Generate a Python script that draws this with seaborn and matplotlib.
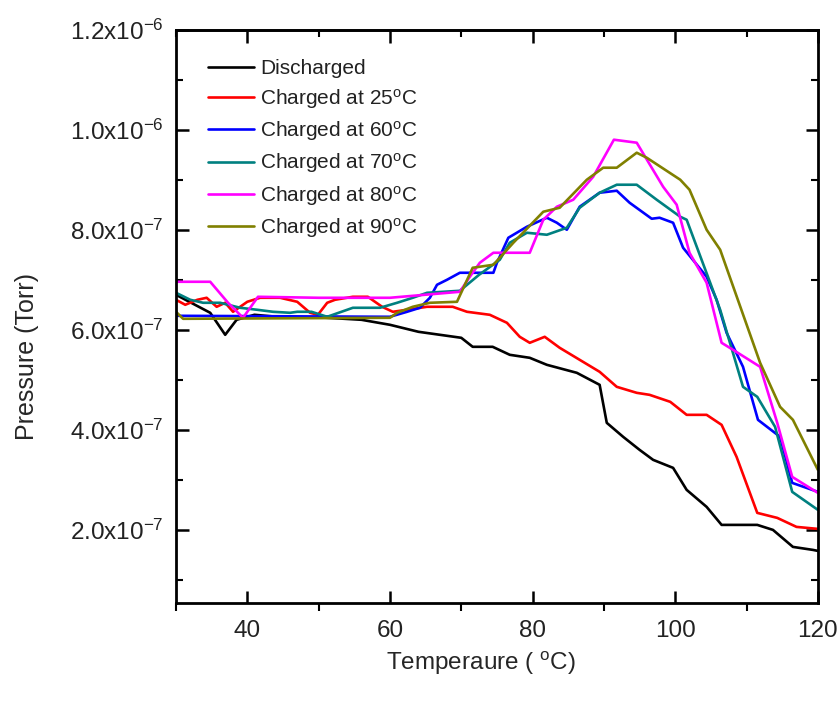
import matplotlib
matplotlib.use('Agg')
import matplotlib.pyplot as plt
from matplotlib.ticker import MultipleLocator, FuncFormatter
import numpy as np
import pandas as pd
import seaborn as sns

# data (pressure in units of 1e-7 Torr)
disc_x = [30, 32, 34.8, 36.9, 38.5, 41, 45, 50, 56, 60, 64, 67, 70, 71.6, 74.4, 76.8, 79.6, 82, 86.2, 89.4,
          90.4, 92.7, 95, 96.9, 99.7, 101.6, 104.4, 106.5, 111.5, 113.7, 116.5, 119.3, 120]
disc_y = [6.7, 6.55, 6.34, 5.9, 6.2, 6.3, 6.25, 6.25, 6.2, 6.1, 5.96, 5.9, 5.84, 5.66, 5.66, 5.5, 5.44, 5.3, 5.14, 4.9,
          4.14, 3.86, 3.6, 3.4, 3.24, 2.8, 2.46, 2.1, 2.1, 2.0, 1.66, 1.6, 1.58]

c25_x = [30, 31.3, 33, 34.3, 35.7, 36.9, 38, 40, 41.8, 44.6, 47, 48.8, 49.9, 51.2, 52.3, 54.8, 56.9, 58.9, 60.4, 62.4,
         65.2, 68.8, 70.8, 74, 76.4, 78.2, 79.6, 81.7, 83.8, 86.6, 89.4, 91.8, 94.6, 96.4, 99.3, 101.6, 104.4, 106.5,
         108.6, 111.5, 114.3, 117, 120]
c25_y = [6.6, 6.5, 6.6, 6.64, 6.46, 6.54, 6.36, 6.56, 6.64, 6.64, 6.56, 6.34, 6.3, 6.54, 6.6, 6.66, 6.66, 6.46, 6.36, 6.4,
         6.46, 6.46, 6.36, 6.3, 6.14, 5.86, 5.74, 5.86, 5.64, 5.4, 5.16, 4.86, 4.74, 4.7, 4.56, 4.3, 4.3, 4.1,
         3.46, 2.34, 2.24, 2.06, 2.02]

c60_x = [30, 60, 62.4, 64.2, 65.6, 66.6, 68, 69.8, 74.5, 75, 76.6, 79.2, 82, 83.4, 84.8, 86.6, 89.4, 91.8, 93.6, 96.7,
         97.8, 99.7, 101.1, 104.4, 105.8, 107.2, 109.5, 111.6, 114.7, 116.4, 120]
c60_y = [6.28, 6.26, 6.36, 6.44, 6.64, 6.9, 7.0, 7.14, 7.14, 7.34, 7.84, 8.06, 8.24, 8.14, 8.0, 8.46, 8.74, 8.78, 8.54, 8.22,
         8.24, 8.14, 7.64, 7.06, 6.6, 5.94, 5.26, 4.2, 3.86, 2.94, 2.76]

c70_x = [30, 32, 33.8, 36.2, 39, 41.4, 43.6, 46, 47, 49, 51.2, 54.8, 58.6, 61, 63.2, 65.2, 69.8, 72.5, 75.4, 76.8,
         79.2, 82, 84.8, 86.6, 89.4, 91.8, 94.6, 97.4, 100.7, 101.6, 104.9, 106.3, 109.5, 111.5, 114, 116.4, 120]
c70_y = [6.74, 6.6, 6.54, 6.54, 6.44, 6.4, 6.36, 6.34, 6.36, 6.36, 6.26, 6.44, 6.44, 6.54, 6.64, 6.74, 6.78, 7.1, 7.4, 7.74,
         7.94, 7.9, 8.04, 8.44, 8.74, 8.9, 8.9, 8.6, 8.26, 8.2, 6.94, 6.4, 4.86, 4.66, 4.06, 2.76, 2.4]

c80_x = [30, 34.8, 37.3, 39.4, 41.5, 50, 60, 69.8, 71.2, 72.6, 74.5, 79.6, 81.5, 83.4, 85.7, 88.5, 91.4, 94.6, 98.3, 100.2,
         102, 104.4, 106.5, 108.1, 111.9, 114.3, 116.4, 120]
c80_y = [6.96, 6.96, 6.54, 6.24, 6.66, 6.64, 6.64, 6.76, 7.06, 7.34, 7.54, 7.54, 8.2, 8.46, 8.6, 9.06, 9.8, 9.74, 8.86, 8.5,
         7.54, 6.94, 5.74, 5.6, 5.26, 4.14, 3.06, 2.74]

c90_x = [30, 31, 60, 61, 63.2, 65.6, 69.4, 71.6, 74.5, 77.3, 81.5, 83.8, 87.6, 89.9, 91.8, 94.6, 96, 100.7, 102, 104.4,
         106.3, 111.9, 114.7, 116.5, 120]
c90_y = [6.36, 6.22, 6.24, 6.34, 6.46, 6.54, 6.56, 7.24, 7.3, 7.74, 8.36, 8.44, 9.0, 9.24, 9.24, 9.54, 9.44, 9.0, 8.8, 8.0,
         7.6, 5.34, 4.46, 4.2, 3.2]

labels = ['Discharged',
          'Charged at 25$^\\mathrm{o}$C',
          'Charged at 60$^\\mathrm{o}$C',
          'Charged at 70$^\\mathrm{o}$C',
          'Charged at 80$^\\mathrm{o}$C',
          'Charged at 90$^\\mathrm{o}$C']
colors = ['black', '#ff0000', '#0000ff', '#008080', '#ff00ff', '#808000']

series = [(disc_x, disc_y), (c25_x, c25_y), (c60_x, c60_y),
          (c70_x, c70_y), (c80_x, c80_y), (c90_x, c90_y)]

frames = []
for lab, (xs, ys) in zip(labels, series):
    frames.append(pd.DataFrame({'T': xs, 'P': np.array(ys) * 1e-7, 'curve': lab}))
df = pd.concat(frames, ignore_index=True)

sns.set_style('ticks')
plt.rcParams['font.family'] = ['Liberation Sans', 'DejaVu Sans']
plt.rcParams['mathtext.fontset'] = 'custom'
plt.rcParams['mathtext.rm'] = 'Liberation Sans'
plt.rcParams['mathtext.it'] = 'Liberation Sans:italic'
plt.rcParams['axes.unicode_minus'] = True
plt.rcParams['text.color'] = '#222222'
plt.rcParams['xtick.labelcolor'] = '#222222'
plt.rcParams['ytick.labelcolor'] = '#222222'

fig = plt.figure(figsize=(8.38, 7.06), dpi=100)
ax = fig.add_axes([0.21, 0.146, 0.766, 0.812])

sns.lineplot(data=df, x='T', y='P', hue='curve', hue_order=labels, palette=colors,
             estimator=None, sort=False, linewidth=1.9, ax=ax)

ax.set_xlim(30, 120)
ax.set_ylim(0.54e-7, 1.2e-6)

ax.xaxis.set_major_locator(MultipleLocator(20))
ax.xaxis.set_minor_locator(MultipleLocator(10))
ax.yaxis.set_major_locator(MultipleLocator(2e-7))
ax.yaxis.set_minor_locator(MultipleLocator(1e-7))


def sci_fmt(v, pos):
    if v <= 0:
        return ''
    exp = int(np.floor(np.log10(v) + 1e-9))
    mant = v / 10 ** exp
    return '%.1fx10$^{%d}$' % (mant, exp)


ax.yaxis.set_major_formatter(FuncFormatter(sci_fmt))
ax.set_xticks([40, 60, 80, 100, 120])

for side in ax.spines.values():
    side.set_linewidth(2.0)
    side.set_color('black')

ax.tick_params(axis='both', which='major', direction='in', length=9, width=1.8, color='black',
               labelsize=17.5, pad=9)
ax.tick_params(axis='y', which='minor', direction='in', length=5, width=1.5, color='black', right=True)
ax.tick_params(axis='y', which='major', right=True)
ax.tick_params(axis='x', which='minor', direction='out', length=6, width=1.5, color='black')
ax.tick_params(axis='x', which='major', pad=12)

# top axis ticks point inward
top = ax.secondary_xaxis('top')
top.xaxis.set_major_locator(MultipleLocator(20))
top.xaxis.set_minor_locator(MultipleLocator(10))
top.tick_params(which='major', direction='in', length=9, width=1.8, color='black', labeltop=False)
top.tick_params(which='minor', direction='in', length=5, width=1.5, color='black')
top.spines['top'].set_linewidth(2.0)

ax.set_xlabel('Temperaure ( $^\\mathrm{o}$C)', fontsize=17.5)
ax.set_ylabel('Pressure (Torr)', fontsize=18)
ax.xaxis.set_label_coords(0.475, -0.082)
ax.yaxis.set_label_coords(-0.213, 0.43)

handles, labs = ax.get_legend_handles_labels()
ax.legend(handles, labs, loc='upper left', bbox_to_anchor=(0.03, 0.97), frameon=False,
          fontsize=15, handlelength=2.2, handletextpad=0.3, labelspacing=0.4, borderaxespad=0.2)

fig.savefig('out.png', dpi=100)
